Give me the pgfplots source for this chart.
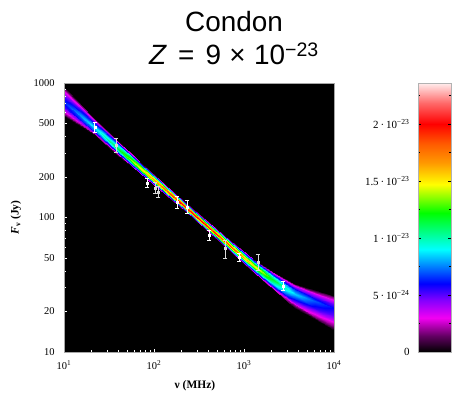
\documentclass[border=0pt]{standalone}
\usepackage{fontspec}
\setmainfont{Liberation Serif}
\newfontfamily\titlefont{Liberation Sans}
\usepackage{pgfplots}
\pgfplotsset{compat=1.18}
\pgfplotsset{
  colormap={crain}{rgb(0cm)=(0,0,0) rgb(1.4cm)=(0.38,0,0.38) rgb(3.0cm)=(0.95,0,0.95)
    rgb(4.6cm)=(0.5,0,1) rgb(6.0cm)=(0,0,1) rgb(7.5cm)=(0,0.5,1) rgb(9.0cm)=(0,1,1)
    rgb(10.6cm)=(0,1,0.5) rgb(12.2cm)=(0,1,0) rgb(14.7cm)=(1,1,0) rgb(16.6cm)=(1,0.6,0)
    rgb(18.3cm)=(1,0.35,0) rgb(20.0cm)=(1,0,0) rgb(21.8cm)=(1,0.4,0.4) rgb(23.6cm)=(1,0.93,0.93)}
}
\begin{document}
\begin{tikzpicture}
\useasboundingbox (-64bp,-42bp) rectangle (390bp,352bp);
\begin{axis}[
  at={(0,0)}, anchor=south west,
  scale only axis, width=270bp, height=269bp,
  xmode=log, ymode=log,
  xmin=10, xmax=10000, ymin=10, ymax=1000,
  axis background/.style={fill=black},
  axis on top,
  axis line style={gray!70, line width=0.5bp},
  tick pos=left,
  xtick={10,100,1000,10000},
  xticklabels={10\textsuperscript{1},10\textsuperscript{2},10\textsuperscript{3},10\textsuperscript{4}},
  minor xtick={20,30,40,50,60,70,80,90,200,300,400,500,600,700,800,900,2000,3000,4000,5000,6000,7000,8000,9000},
  ytick={10,20,50,100,200,500,1000},
  yticklabels={10,20,50,100,200,500,1000},
  minor ytick={30,40,60,70,80,90,300,400,600,700,800,900},
  major tick length=3bp, minor tick length=2bp,
  every tick/.style={white, line width=0.7bp},
  ticklabel style={font=\fontsize{10.5}{12}\selectfont, text=black},
  xticklabel style={yshift=-5bp},
  yticklabel style={xshift=-6bp},
  xlabel={\textbf{ν (MHz)}},
  ylabel={\textbf{\textit{F}\textsubscript{ν} (Jy)}},
  xlabel style={at={(axis description cs:0.485,-0.125)}, anchor=center, font=\fontsize{11.5}{12}\selectfont},
  ylabel style={at={(axis description cs:-0.178,0.5)}, anchor=center, font=\fontsize{11.5}{12}\selectfont},
  colormap name=crain,
  point meta min=0, point meta max=23.6,
]
\addplot[surf, shader=interp, mesh/cols=9, point meta=explicit] table[meta=d] {
x y d
10 568.3 0.2
10 589.1 1.63
10 618.1 3.25
10 664.1 5.2
10 722.2 6.5
10 790.2 5.2
10 853.4 3.25
10 898.5 1.63
10 933.8 0.2
22.1 407.1 0.27
22.1 414.4 2.25
22.1 424.5 4.5
22.1 440.0 7.2
22.1 458.9 9
22.1 487.2 7.2
22.1 512.9 4.5
22.1 530.7 2.25
22.1 544.5 0.27
38.8 294.0 0.35
38.8 299.3 2.88
38.8 306.6 5.75
38.8 317.8 9.2
38.8 331.4 11.5
38.8 347.7 9.2
38.8 362.3 5.75
38.8 372.3 2.88
38.8 380.1 0.35
69.9 212.4 0.45
69.9 215.7 3.75
69.9 220.2 7.5
69.9 227.1 12
69.9 235.3 15
69.9 244.0 12
69.9 251.6 7.5
69.9 256.8 3.75
69.9 260.8 0.45
221 111.8 0.62
221 113.1 5.13
221 114.8 10.25
221 117.5 16.4
221 120.7 20.5
221 124.0 16.4
221 126.9 10.25
221 128.9 5.13
221 130.4 0.62
699 56.83 0.57
699 57.57 4.75
699 58.56 9.5
699 60.08 15.2
699 61.92 19
699 63.99 15.2
699 65.83 9.5
699 67.07 4.75
699 68.03 0.57
1259 39.67 0.47
1259 40.34 3.88
1259 41.25 7.75
1259 42.65 12.4
1259 44.34 15.5
1259 46.10 12.4
1259 47.66 7.75
1259 48.74 3.88
1259 49.56 0.47
2210 28.41 0.35
2210 29.15 2.88
2210 30.17 5.75
2210 31.76 9.2
2210 33.72 11.5
2210 35.37 9.2
2210 36.86 5.75
2210 37.88 2.88
2210 38.67 0.35
3687 21.42 0.26
3687 22.21 2.13
3687 23.29 4.25
3687 25.03 6.8
3687 27.22 8.5
3687 28.81 6.8
3687 30.26 4.25
3687 31.25 2.13
3687 32.03 0.26
6151 17.45 0.21
6151 18.27 1.75
6151 19.43 3.5
6151 21.31 5.6
6151 23.74 7
6151 25.36 5.6
6151 26.83 3.5
6151 27.86 1.75
6151 28.66 0.21
10000 14.57 0.18
10000 15.42 1.5
10000 16.63 3
10000 18.62 4.8
10000 21.24 6
10000 22.89 4.8
10000 24.41 3
10000 25.47 1.5
10000 26.30 0.18
};
\addplot[only marks, mark=square*, mark size=1.1bp, mark options={white, draw=white},
  error bars/.cd, y dir=both, y explicit,
  error bar style={white, line width=0.7bp},
  error mark options={rotate=90, white, mark size=2.2bp, line width=0.7bp}]
  table[x=x, y=y, y error=e] {
x y e
22 471 40
83.6 181 14
180 130 13
233 120 13
408 74 6
880 51 3.5
2710 31 2.4
};
\addplot[only marks, mark=square*, mark size=1.1bp, mark options={gray!30!white, draw=gray!30!white},
  error bars/.cd, y dir=both, y explicit,
  error bar style={gray!30!white, line width=0.7bp},
  error mark options={rotate=90, gray!30!white, mark size=2.2bp, line width=0.7bp}]
  table[x=x, y=y, y error=e] {
x y e
37.8 346 40
103 166 15
111 155 14
615 59 9
1431 46.7 6.5
};
\end{axis}
\begin{axis}[
  at={(354bp,0)}, anchor=south west,
  scale only axis, width=33bp, height=269bp,
  xmin=0, xmax=1, ymin=0, ymax=23.6,
  xtick=\empty,
  ytick={0,5,10,15,20},
  yticklabels={0, 5\,·\,10\textsuperscript{−24}, 1\,·\,10\textsuperscript{−23}, 1.5\,·\,10\textsuperscript{−23}, 2\,·\,10\textsuperscript{−23}},
  yticklabel pos=left,
  ytick pos=both,
  minor ytick={2.5,7.5,12.5,17.5,22.5},
  major tick length=3bp, minor tick length=2bp,
  every tick/.style={black, line width=0.5bp},
  yticklabel style={font=\fontsize{11}{12}\selectfont, xshift=-5bp},
  axis line style={gray!60},
  axis on top,
  colormap name=crain,
  point meta min=0, point meta max=23.6,
]
\addplot[surf, shader=interp, mesh/cols=2, point meta=y] coordinates {(0,0) (1,0) (0,23.6) (1,23.6)};
\end{axis}
\node[font=\titlefont\fontsize{28}{30}\selectfont, anchor=base] at (170bp,320bp) {Condon};
\node[font=\titlefont\fontsize{28}{30}\selectfont, anchor=base] at (170bp,287bp) {\textit{Z}\kern0.4em=\kern0.4em9\kern0.3em×\kern0.3em10\textsuperscript{−23}};
\end{tikzpicture}
\end{document}
